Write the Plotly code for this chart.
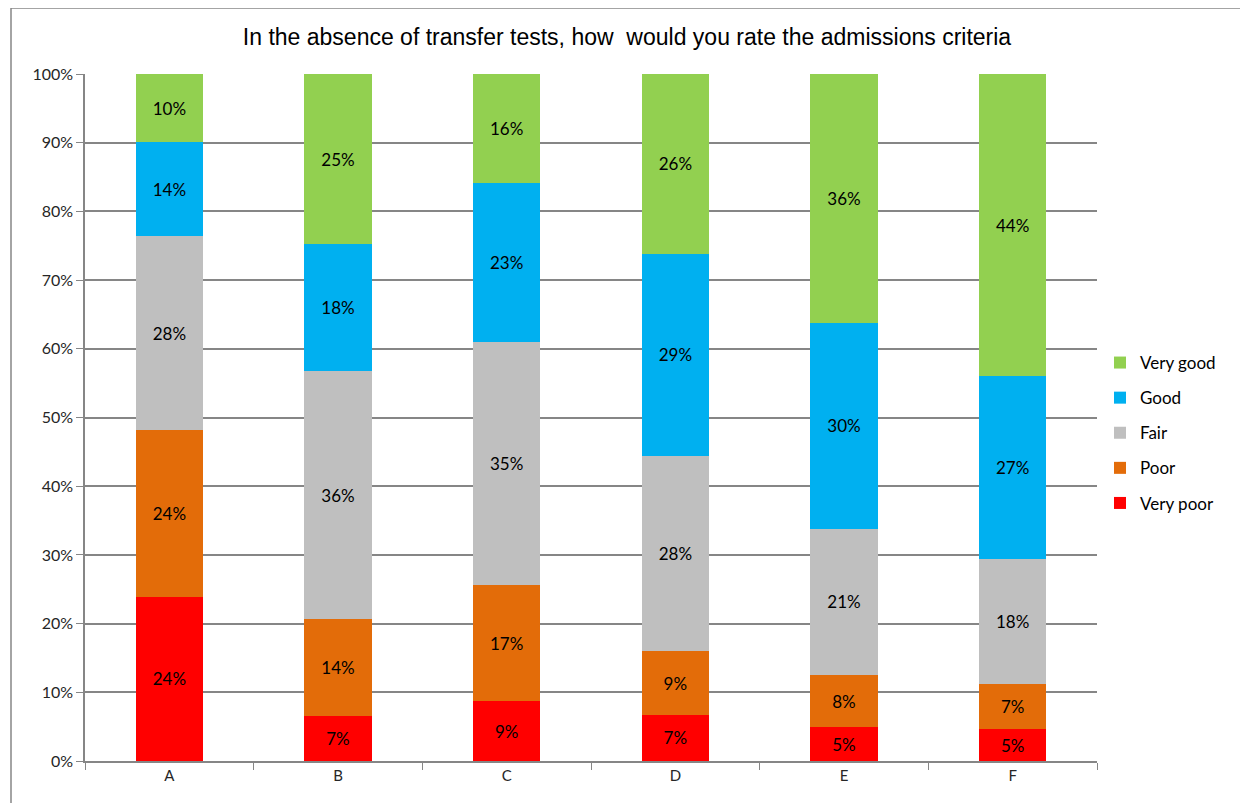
import plotly.graph_objects as go

categories = ["A", "B", "C", "D", "E", "F"]
very_poor = [23.9, 6.6, 8.7, 6.7, 4.9, 4.6]
poor = [24.3, 14.0, 16.9, 9.3, 7.6, 6.6]
fair = [28.2, 36.1, 35.4, 28.4, 21.3, 18.2]
good = [13.7, 18.5, 23.1, 29.4, 30.0, 26.6]
very_good = [9.9, 24.8, 15.9, 26.2, 36.2, 44.0]

series = [
    ("Very poor", very_poor, "#FF0000"),
    ("Poor", poor, "#E36C09"),
    ("Fair", fair, "#BFBFBF"),
    ("Good", good, "#00B0F0"),
    ("Very good", very_good, "#92D050"),
]

OFF = 8  # page body margin
W, H = 1248 - OFF, 803 - OFF
L, R, T, B = 85 - OFF, 1097 - OFF, 74 - OFF, 761 - OFF

fig = go.Figure()
for i, (name, vals, col) in enumerate(series):
    fig.add_trace(go.Bar(
        x=categories, y=vals, name=name, legendgroup=name, legendrank=100 - i,
        marker=dict(color=col, line=dict(width=0)),
        text=[f"{round(v)}%" for v in vals], textposition="inside",
        insidetextanchor="middle", textangle=0,
        textfont=dict(family="Lato, Open Sans, sans-serif", size=17, color="#000000"),
        hoverinfo="skip",
    ))

pw, ph = R - L, B - T
def px(x): return (x - OFF - L) / pw
def py(y): return (B - (y - OFF)) / ph

fig.update_layout(
    width=W, height=H, barmode="stack", bargap=0.6,
    margin=dict(l=L, r=W - R, t=T, b=H - B, pad=0),
    paper_bgcolor="white", plot_bgcolor="white",
    font=dict(family="Lato, Open Sans, sans-serif", size=15, color="#000000"),
    title=dict(text="In the absence of transfer tests, how  would you rate the admissions criteria",
               x=(627 - OFF) / W, xanchor="center", y=1 - (37 - OFF) / H, yanchor="middle",
               font=dict(family="Liberation Sans Narrow, Liberation Sans, sans-serif", size=23, color="#000000")),
    uniformtext=dict(mode="show", minsize=10),
    legend=dict(x=px(1100), xanchor="left", y=py(345), yanchor="top",
                traceorder="grouped", tracegroupgap=10,
                font=dict(family="Lato, Open Sans, sans-serif", size=17, color="#000000"),
                itemwidth=30, bgcolor="rgba(0,0,0,0)"),
    showlegend=True,
    shapes=[dict(type="rect", xref="paper", yref="paper",
                 x0=px(11), x1=px(1243), y0=py(812), y1=py(8),
                 line=dict(color="#868686", width=1.5), fillcolor="rgba(0,0,0,0)", layer="below")],
)
fig.update_xaxes(showline=True, linecolor="#868686", linewidth=1.5,
                 ticks="outside", tickson="boundaries", ticklen=7, tickcolor="#868686",
                 tickfont=dict(size=15, color="#262626"), showgrid=False)
fig.update_yaxes(range=[0, 100], dtick=10, ticksuffix="%", showline=True, linecolor="#868686",
                 linewidth=1.5, ticks="outside", ticklen=7, tickcolor="#868686",
                 showgrid=True, gridcolor="#868686", gridwidth=1.5,
                 tickfont=dict(size=16, color="#262626"), zeroline=False)

fig.write_html("out.html")
